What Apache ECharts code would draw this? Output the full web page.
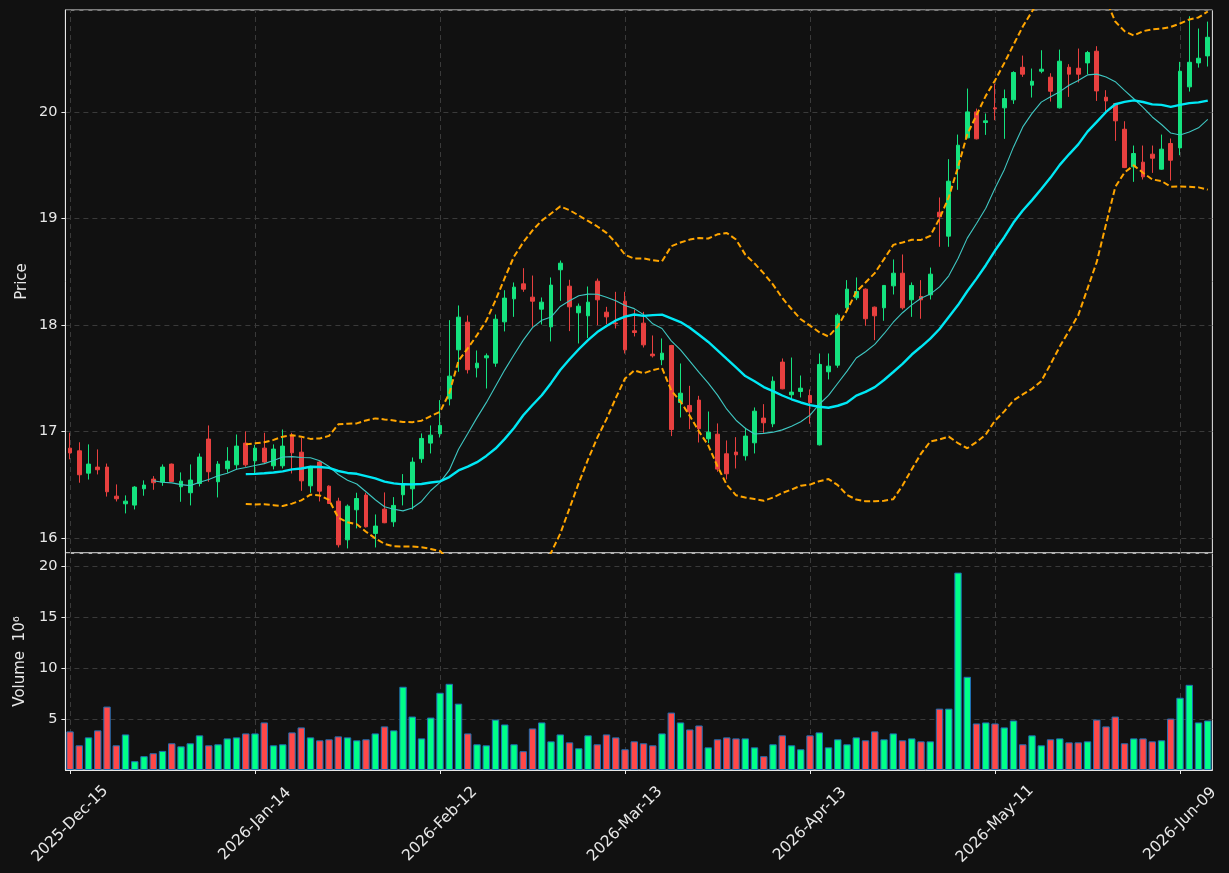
<!DOCTYPE html>
<html><head><meta charset="utf-8">
<script src="https://cdn.jsdelivr.net/npm/echarts@6/dist/echarts.min.js"></script>
<style>html,body{margin:0;padding:0;background:#111111;} #c{width:1229px;height:873px;}</style>
</head><body><div id="c"></div>
<script>
const dates = [
'2025-Dec-15','2025-Dec-16','2025-Dec-17','2025-Dec-18','2025-Dec-19','2025-Dec-22','2025-Dec-23','2025-Dec-24','2025-Dec-26','2025-Dec-29','2025-Dec-30','2025-Dec-31',
'2026-Jan-02','2026-Jan-05','2026-Jan-06','2026-Jan-07','2026-Jan-08','2026-Jan-09','2026-Jan-12','2026-Jan-13','2026-Jan-14','2026-Jan-15','2026-Jan-16','2026-Jan-20','2026-Jan-21','2026-Jan-22','2026-Jan-23','2026-Jan-26','2026-Jan-27','2026-Jan-28','2026-Jan-29','2026-Jan-30',
'2026-Feb-02','2026-Feb-03','2026-Feb-04','2026-Feb-05','2026-Feb-06','2026-Feb-09','2026-Feb-10','2026-Feb-11','2026-Feb-12','2026-Feb-13','2026-Feb-17','2026-Feb-18','2026-Feb-19','2026-Feb-20','2026-Feb-23','2026-Feb-24','2026-Feb-25','2026-Feb-26','2026-Feb-27',
'2026-Mar-02','2026-Mar-03','2026-Mar-04','2026-Mar-05','2026-Mar-06','2026-Mar-09','2026-Mar-10','2026-Mar-11','2026-Mar-12','2026-Mar-13','2026-Mar-16','2026-Mar-17','2026-Mar-18','2026-Mar-19','2026-Mar-20','2026-Mar-23','2026-Mar-24','2026-Mar-25','2026-Mar-26','2026-Mar-27','2026-Mar-30','2026-Mar-31',
'2026-Apr-01','2026-Apr-02','2026-Apr-06','2026-Apr-07','2026-Apr-08','2026-Apr-09','2026-Apr-10','2026-Apr-13','2026-Apr-14','2026-Apr-15','2026-Apr-16','2026-Apr-17','2026-Apr-20','2026-Apr-21','2026-Apr-22','2026-Apr-23','2026-Apr-24','2026-Apr-27','2026-Apr-28','2026-Apr-29','2026-Apr-30',
'2026-May-01','2026-May-04','2026-May-05','2026-May-06','2026-May-07','2026-May-08','2026-May-11','2026-May-12','2026-May-13','2026-May-14','2026-May-15','2026-May-18','2026-May-19','2026-May-20','2026-May-21','2026-May-22','2026-May-26','2026-May-27','2026-May-28','2026-May-29',
'2026-Jun-01','2026-Jun-02','2026-Jun-03','2026-Jun-04','2026-Jun-05','2026-Jun-08','2026-Jun-09','2026-Jun-10','2026-Jun-11','2026-Jun-12'];

const opens = [16.845,16.82,16.61,16.667,16.667,16.394,16.322,16.31,16.463,16.554,16.526,16.695,16.482,16.426,16.513,16.93,16.529,16.651,16.688,16.892,
16.726,16.845,16.679,16.679,16.967,16.807,16.491,16.714,16.488,16.347,15.984,16.266,16.404,16.044,16.272,16.153,16.407,16.463,16.745,16.892,
16.98,17.308,17.768,18.028,17.599,17.693,17.643,18.031,18.247,18.388,18.263,18.15,17.984,18.52,18.366,18.116,18.088,18.413,18.122,18.019,
18.225,17.947,18.019,17.728,17.675,17.809,17.274,17.246,17.296,16.933,16.976,16.792,16.808,16.773,16.895,17.127,17.073,17.653,17.346,17.377,
17.34,16.876,17.562,17.624,18.163,18.257,18.338,18.169,18.163,18.369,18.488,18.238,18.269,18.285,19.061,18.836,19.468,19.759,20.003,19.903,
20.041,20.041,20.116,20.422,20.254,20.385,20.329,20.041,20.422,20.413,20.463,20.573,20.141,20.081,19.84,19.487,19.531,19.606,19.465,19.706,
19.665,20.238,20.463,20.529];
const highs = [16.99,16.90,16.88,16.833,16.70,16.504,16.401,16.488,16.542,16.582,16.692,16.70,16.617,16.692,16.795,17.058,16.723,16.854,16.973,17.002,
16.876,16.989,16.88,17.02,16.989,16.942,16.679,16.726,16.495,16.379,16.316,16.426,16.426,16.222,16.429,16.385,16.601,16.757,16.983,17.058,
17.296,18.047,18.185,18.091,17.762,17.734,18.10,18.328,18.401,18.535,18.466,18.26,18.448,18.607,18.426,18.203,18.363,18.438,18.172,18.313,
18.313,18.147,18.125,17.903,17.875,17.815,17.64,17.43,17.336,17.189,17.077,16.917,16.948,17.036,17.227,17.258,17.518,17.687,17.696,17.527,
17.396,17.734,17.734,18.11,18.423,18.448,18.345,18.175,18.376,18.617,18.664,18.401,18.423,18.541,19.199,19.559,19.79,20.222,20.034,19.988,
20.266,20.213,20.385,20.532,20.41,20.582,20.366,20.588,20.451,20.598,20.576,20.62,20.207,20.085,19.915,19.687,19.687,19.687,19.79,19.753,
20.473,20.901,20.786,20.851];
const lows = [16.74,16.52,16.55,16.598,16.39,16.344,16.232,16.269,16.398,16.454,16.491,16.53,16.341,16.307,16.485,16.529,16.382,16.613,16.645,16.67,
16.607,16.701,16.645,16.654,16.607,16.444,16.426,16.344,16.32,15.912,15.903,16.091,16.10,15.912,16.14,16.106,16.307,16.269,16.707,16.795,
16.945,17.246,17.562,17.546,17.509,17.405,17.609,17.941,18.078,18.313,17.984,18.006,17.847,18.228,17.944,17.828,17.878,18.00,18.009,17.969,
17.734,17.894,17.79,17.696,17.624,16.958,17.133,17.023,16.898,16.892,16.623,16.551,16.654,16.729,16.795,16.989,17.042,17.398,17.308,17.321,
17.074,16.87,17.49,17.60,18.141,18.235,17.994,17.859,18.041,18.288,18.147,18.078,18.06,18.241,18.736,18.736,19.271,19.755,19.745,19.787,
19.925,19.75,20.078,20.332,20.138,20.366,20.10,20.035,20.144,20.279,20.357,20.106,19.987,19.731,19.475,19.346,19.368,19.43,19.46,19.358,
19.596,20.194,20.419,20.429];
const closes = [16.80,16.595,16.695,16.642,16.435,16.369,16.347,16.479,16.498,16.52,16.667,16.532,16.535,16.545,16.761,16.623,16.695,16.723,16.864,16.688,
16.845,16.714,16.836,16.864,16.801,16.538,16.67,16.441,16.325,15.937,16.30,16.372,16.106,16.113,16.144,16.307,16.513,16.714,16.936,16.967,
17.058,17.521,18.075,17.581,17.643,17.712,18.056,18.254,18.357,18.338,18.225,18.216,18.376,18.582,18.172,18.178,18.216,18.238,18.078,18.013,
17.768,17.931,17.815,17.712,17.737,17.02,17.361,17.186,17.027,16.995,16.648,16.604,16.782,16.958,17.192,17.083,17.474,17.402,17.371,17.408,
17.271,17.631,17.615,18.094,18.338,18.316,18.06,18.088,18.373,18.488,18.163,18.373,18.238,18.479,19.017,19.352,19.69,20.003,19.75,19.919,
20.031,20.128,20.373,20.357,20.291,20.404,20.197,20.479,20.357,20.357,20.56,20.20,20.106,19.919,19.48,19.612,19.393,19.568,19.653,19.549,
20.385,20.469,20.507,20.704];
const volumes = [3.80,2.43,3.21,3.90,6.24,2.43,3.50,0.87,1.36,1.65,1.88,2.63,2.33,2.63,3.41,2.43,2.53,3.11,3.21,3.60,
3.60,4.68,2.43,2.53,3.70,4.19,3.21,2.92,3.02,3.31,3.21,2.92,3.02,3.60,4.29,3.90,8.19,5.26,3.11,5.16,
7.60,8.48,6.53,3.60,2.53,2.43,4.96,4.48,2.53,1.85,4.09,4.68,2.82,3.50,2.72,2.14,3.41,2.53,3.50,3.21,
2.04,2.82,2.63,2.43,3.60,5.65,4.68,3.99,4.38,2.23,3.02,3.21,3.11,3.11,2.23,1.36,2.53,3.41,2.43,2.04,
3.41,3.70,2.23,3.02,2.53,3.21,2.92,3.80,3.02,3.60,2.92,3.11,2.82,2.82,6.04,6.04,19.42,9.17,4.58,4.68,
4.58,4.19,4.87,2.53,3.41,2.43,3.02,3.11,2.72,2.72,2.82,4.96,4.29,5.26,2.63,3.11,3.11,2.82,2.92,5.06,
7.11,8.38,4.68,4.87];
const xTickEvery = 20;
const priceTicks = [16, 17, 18, 19, 20];
const volumeTicks = [5, 10, 15, 20];

function sma(arr, n) {
  return arr.map((_, i) => {
    if (i < n - 1) return null;
    let s = 0; for (let k = i - n + 1; k <= i; k++) s += arr[k];
    return s / n;
  });
}
function stdev(arr, n) {
  const m = sma(arr, n);
  return arr.map((_, i) => {
    if (i < n - 1) return null;
    let s = 0; for (let k = i - n + 1; k <= i; k++) s += (arr[k] - m[i]) ** 2;
    return Math.sqrt(s / (n - 1));
  });
}
const ma10 = sma(closes, 10);
const ma20 = sma(closes, 20);
const sd20 = stdev(closes, 20);
const bbUp = ma20.map((m, i) => m == null ? null : m + 2 * sd20[i]);
const bbLo = ma20.map((m, i) => m == null ? null : m - 2 * sd20[i]);

const candleData = opens.map((o, i) => [o, closes[i], lows[i], highs[i]]);
const UP = '#14e37f', DOWN = '#e8403f';
const VUP = '#00ff88', VDOWN = '#ff4848';
const volData = volumes.map((v, i) => ({
  value: v,
  itemStyle: { color: closes[i] >= opens[i] ? VUP : VDOWN }
}));

const TXT = '#e8e8e8', FONT = 'DejaVu Sans', GRIDC = '#3a3a3a';
const vLines = dates.filter((d, i) => i % xTickEvery === 0).map(d => ({ xAxis: d }));
const gridMark = {
  silent: true, symbol: 'none', label: { show: false }, z: 0,
  lineStyle: { color: GRIDC, type: [5, 4], width: 1 },
  emphasis: { disabled: true },
  data: vLines
};

const chart = echarts.init(document.getElementById('c'), null, { renderer: 'canvas' });
const L = 65.4, W = 1147;
chart.setOption({
  backgroundColor: '#111111',
  animation: false,
  grid: [
    { left: L, top: 10, width: W, height: 543, show: true, borderColor: '#e8e8e8', borderWidth: 1, backgroundColor: 'transparent' },
    { left: L, top: 553, width: W, height: 217, show: true, borderColor: '#e8e8e8', borderWidth: 1, backgroundColor: 'transparent' }
  ],
  xAxis: [
    { type: 'category', gridIndex: 0, data: dates, boundaryGap: true,
      axisLine: { show: false }, axisTick: { show: false }, axisLabel: { show: false }, splitLine: { show: false } },
    { type: 'category', gridIndex: 1, data: dates, boundaryGap: true,
      axisLine: { show: true, lineStyle: { color: '#e8e8e8' } },
      axisTick: { show: true, alignWithLabel: true, interval: (i) => i % xTickEvery === 0, length: 4, lineStyle: { color: '#e8e8e8' } },
      axisLabel: { show: true, interval: (i) => i % xTickEvery === 0, rotate: 45, align: 'center', verticalAlign: 'middle', margin: 54,
        color: TXT, fontFamily: FONT, fontSize: 15.5 },
      splitLine: { show: false } }
  ],
  yAxis: [
    { type: 'value', gridIndex: 0, min: 15.86, max: 20.96, splitNumber: 5, scale: true,
      name: 'Price', nameLocation: 'middle', nameGap: 43, nameRotate: 90, nameMoveOverlap: false,
      nameTextStyle: { color: TXT, fontFamily: FONT, fontSize: 15, align: 'center', verticalAlign: 'middle' },
      axisLine: { show: true, lineStyle: { color: '#e8e8e8' } },
      axisTick: { show: true, length: 4, lineStyle: { color: '#e8e8e8' } },
      axisLabel: { color: TXT, fontFamily: FONT, fontSize: 14.5, showMinLabel: false, showMaxLabel: false,
        formatter: (v) => priceTicks.includes(Math.round(v * 1000) / 1000) ? String(v) : '' },
      splitLine: { show: true, lineStyle: { color: GRIDC, type: [5, 4] } } },
    { type: 'value', gridIndex: 1, min: 0, max: 21.35, interval: 5,
      name: 'Volume  10\u2076', nameLocation: 'middle', nameGap: 45, nameRotate: 90, nameMoveOverlap: false,
      nameTextStyle: { color: TXT, fontFamily: FONT, fontSize: 15, align: 'center', verticalAlign: 'middle' },
      axisLine: { show: true, lineStyle: { color: '#e8e8e8' } },
      axisTick: { show: true, length: 4, lineStyle: { color: '#e8e8e8' } },
      axisLabel: { color: TXT, fontFamily: FONT, fontSize: 14.5, showMinLabel: false, showMaxLabel: false,
        formatter: (v) => volumeTicks.includes(v) ? String(v) : '' },
      splitLine: { show: true, lineStyle: { color: GRIDC, type: [5, 4] } } }
  ],
  series: [
    { type: 'line', xAxisIndex: 0, yAxisIndex: 0, data: dates.map(() => null), z: 0, silent: true, showSymbol: false,
      lineStyle: { opacity: 0 }, markLine: gridMark },
    { type: 'line', xAxisIndex: 1, yAxisIndex: 1, data: dates.map(() => null), z: 0, silent: true, showSymbol: false,
      lineStyle: { opacity: 0 }, markLine: gridMark },
    { type: 'candlestick', xAxisIndex: 0, yAxisIndex: 0, data: candleData, barWidth: 4.2, z: 6,
      itemStyle: { color: UP, color0: DOWN, borderColor: UP, borderColor0: DOWN, borderWidth: 1 } },
    { type: 'line', xAxisIndex: 0, yAxisIndex: 0, data: ma10, showSymbol: false, z: 7,
      lineStyle: { color: '#3fc7c2', width: 1.1 } },
    { type: 'line', xAxisIndex: 0, yAxisIndex: 0, data: ma20, showSymbol: false, z: 7,
      lineStyle: { color: '#00e8f5', width: 2.4 } },
    { type: 'line', xAxisIndex: 0, yAxisIndex: 0, data: bbUp, showSymbol: false, z: 7,
      lineStyle: { color: '#ffa500', width: 2, type: [6, 3] } },
    { type: 'line', xAxisIndex: 0, yAxisIndex: 0, data: bbLo, showSymbol: false, z: 7,
      lineStyle: { color: '#ffa500', width: 2, type: [6, 3] } },
    { type: 'bar', xAxisIndex: 1, yAxisIndex: 1, data: volData, barWidth: 7.4, z: 6,
      itemStyle: { borderColor: '#1f6fb5', borderWidth: 1 } }
  ]
});
</script>
</body></html>
